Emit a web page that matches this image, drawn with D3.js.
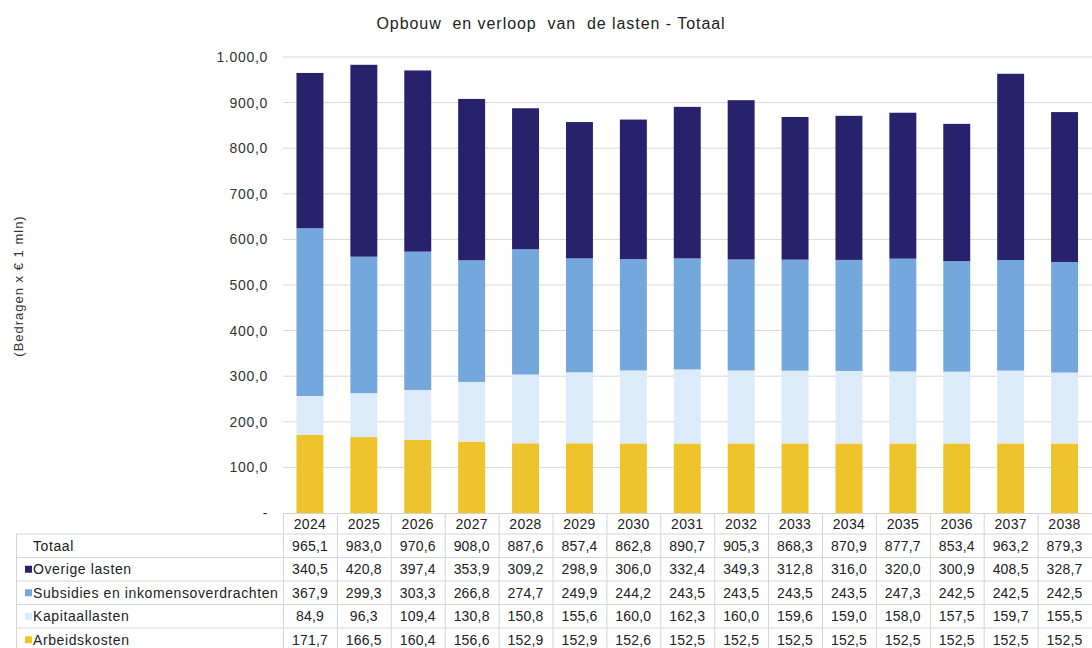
<!DOCTYPE html>
<html><head><meta charset="utf-8">
<script src="https://cdn.jsdelivr.net/npm/d3@7"></script>
<style>body{margin:0;background:#fff}svg{display:block;font-family:"Liberation Sans",Arial,sans-serif}</style>
</head><body>
<svg id="c" width="1092" height="648"></svg>
<script>
const years = ["2024","2025","2026","2027","2028","2029","2030","2031","2032","2033","2034","2035","2036","2037","2038"];
const totaal = [965.1,983.0,970.6,908.0,887.6,857.4,862.8,890.7,905.3,868.3,870.9,877.7,853.4,963.2,879.3];
const overige = [340.5,420.8,397.4,353.9,309.2,298.9,306.0,332.4,349.3,312.8,316.0,320.0,300.9,408.5,328.7];
const subsidies = [367.9,299.3,303.3,266.8,274.7,249.9,244.2,243.5,243.5,243.5,243.5,247.3,242.5,242.5,242.5];
const kapitaal = [84.9,96.3,109.4,130.8,150.8,155.6,160.0,162.3,160.0,159.6,159.0,158.0,157.5,159.7,155.5];
const arbeid = [171.7,166.5,160.4,156.6,152.9,152.9,152.6,152.5,152.5,152.5,152.5,152.5,152.5,152.5,152.5];
const yTicks = [0,100,200,300,400,500,600,700,800,900,1000];
const seriesNames = ["Arbeidskosten","Kapitaallasten","Subsidies en inkomensoverdrachten","Overige lasten"];
const seriesColors = ["#eec42c","#dcebfa","#74a8dc","#27226b"];

const nl = d3.formatLocale({decimal:",",thousands:".",grouping:[3],currency:["€",""]});
const f1 = nl.format(",.1f");

const svg = d3.select("#c");
const x = d3.scaleBand().domain(years).range([283, 283 + 15*53.9]).paddingInner(0.5).paddingOuter(0.25);
const col = d3.scaleBand().domain(years).range([283, 283 + 15*53.9]);
const y = d3.scaleLinear().domain([0,1000]).range([513,57]);

// title
svg.append("text").attr("x",551).attr("y",29).attr("text-anchor","middle")
  .style("white-space","pre").attr("letter-spacing",0.95)
  .attr("font-size",16).attr("fill","#222").text("Opbouw  en verloop  van  de lasten - Totaal");

// y label
svg.append("text").attr("transform","translate(23,286) rotate(-90)").attr("text-anchor","middle")
  .attr("font-size",13).attr("letter-spacing",1).attr("fill","#333").text("(Bedragen x € 1 mln)");

// gridlines
svg.append("g").selectAll("line").data(yTicks.filter(d=>d>0)).join("line")
  .attr("x1",283).attr("x2",1092).attr("y1",d=>y(d)).attr("y2",d=>y(d))
  .attr("stroke","#d9d9d9").attr("stroke-width",1);

// y axis
const yAxis = d3.axisLeft(y).tickValues(yTicks).tickSize(0).tickPadding(15)
  .tickFormat(d => d===0 ? "-" : f1(d));
const ga = svg.append("g").attr("transform","translate(283,0)").call(yAxis);
ga.select(".domain").remove();
ga.selectAll("text").attr("font-size",14).attr("letter-spacing",0.7).attr("fill","#333").attr("font-family","Liberation Sans, Arial, sans-serif");

// stacked bars
const rows = years.map((yr,i)=>({year:yr, s0:arbeid[i], s1:kapitaal[i], s2:subsidies[i], s3:overige[i]}));
const stack = d3.stack().keys(["s0","s1","s2","s3"])(rows);
svg.append("g").selectAll("g").data(stack).join("g").attr("fill",(d,i)=>seriesColors[i])
  .selectAll("rect").data(d=>d).join("rect")
  .attr("x",d=>x(d.data.year)).attr("width",x.bandwidth())
  .attr("y",d=>y(d[1])).attr("height",d=>y(d[0])-y(d[1]));

// table
const tg = svg.append("g");
const gridC = "#d4d4d4";
const headTop = 513, headBot = 534, rowH = 23.5;
const tableRows = [
  {label:"Totaal", vals:totaal, color:null},
  {label:"Overige lasten", vals:overige, color:seriesColors[3]},
  {label:"Subsidies en inkomensoverdrachten", vals:subsidies, color:seriesColors[2]},
  {label:"Kapitaallasten", vals:kapitaal, color:seriesColors[1]},
  {label:"Arbeidskosten", vals:arbeid, color:seriesColors[0]}
];
// header
years.forEach(yr=>{
  tg.append("text").attr("x",col(yr)+col.bandwidth()/2).attr("y",headTop+16)
    .attr("text-anchor","middle").attr("font-size",14).attr("letter-spacing",0.3).attr("fill","#222").text(yr);
});
// horizontal lines
tg.append("line").attr("x1",283).attr("x2",1092).attr("y1",headTop+0.5).attr("y2",headTop+0.5).attr("stroke",gridC);
for(let r=0;r<=tableRows.length;r++){
  const yy = headBot + r*rowH;
  tg.append("line").attr("x1",16).attr("x2",1092).attr("y1",yy).attr("y2",yy).attr("stroke",gridC);
}
// vertical lines
tg.append("line").attr("x1",16.5).attr("x2",16.5).attr("y1",headBot).attr("y2",648).attr("stroke",gridC);
years.forEach(yr=>{
  const xx = col(yr)+0.5;
  tg.append("line").attr("x1",xx).attr("x2",xx).attr("y1",headTop).attr("y2",648).attr("stroke",gridC);
});
tableRows.forEach((row,r)=>{
  const yc = headBot + r*rowH + rowH/2;
  if(row.color){
    tg.append("rect").attr("x",25).attr("y",yc-3.5).attr("width",7).attr("height",7).attr("fill",row.color);
  }
  tg.append("text").attr("x",33).attr("y",yc+5).attr("font-size",14).attr("letter-spacing",0.6).attr("fill","#222").text(row.label);
  row.vals.forEach((v,i)=>{
    tg.append("text").attr("x",col(years[i])+col.bandwidth()/2).attr("y",yc+5)
      .attr("text-anchor","middle").attr("font-size",14).attr("letter-spacing",0.2).attr("fill","#222").text(f1(v));
  });
});
</script>
</body></html>
